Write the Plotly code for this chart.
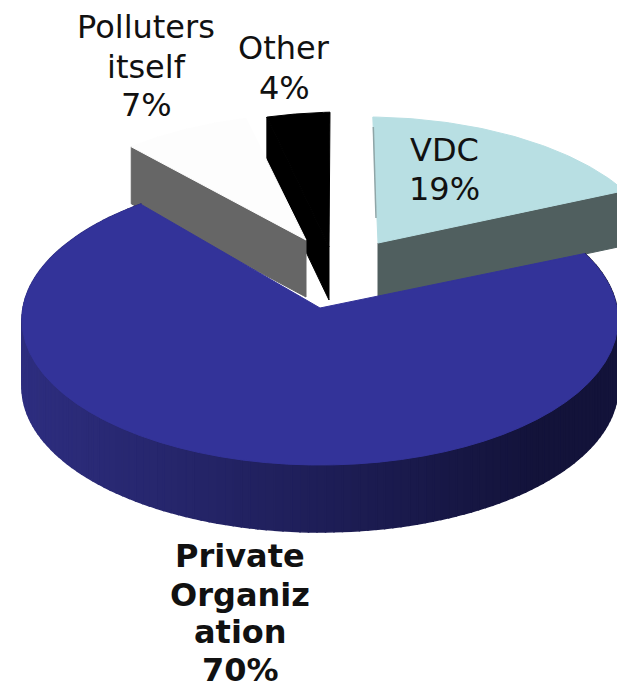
import numpy as np
import plotly.graph_objects as go

# Data
LABELS = ["VDC", "Private Organization", "Polluters itself", "Other"]
VALUES = [19, 70, 7, 4]
LABEL_LINES = [["VDC", "19%"], ["Private", "Organiz", "ation", "70%"], ["Polluters", "itself", "7%"], ["Other", "4%"]]

# Appearance and projected pie geometry (a 3-D exploded pie, seen in perspective)
FACE = ["#b8dfe3", "#333399", "#fdfdfd", "#000000"]
WALL = ["#505f5f", "#1f1f60", "#666666", "#000000"]
RX, RY = 298, 145
RIM_CX = [365, 320, 320, 345]
RIM_CY = [262, 320, 259, 257]
APEX_X = [378, 320, 306, 329]
APEX_Y = [243, 308, 240, 247]
DEPTH = [55, 67, 57, 53]
START = [1.5, 62.7, 320.7, 344.8]
SPAN_SCALE = [0.863, 1.033, 0.99, 0.855]
LABEL_X = [444, 240, 146, 284]
LABEL_Y = [[150, 189], [556, 595, 632, 670], [27, 67, 105], [48, 88]]
LABEL_BOLD = [False, True, False, False]
LABEL_SIZE = [32, 32, 32, 32]


def rim(i, n=60):
    th = np.radians(np.linspace(START[i], START[i] + VALUES[i] * 3.6 * SPAN_SCALE[i], n))
    return RIM_CX[i] + RX * np.sin(th), RIM_CY[i] - RY * np.cos(th)


def poly(fig, x, y, color, lw=0.5):
    fig.add_trace(go.Scatter(x=list(x) + [x[0]], y=list(y) + [y[0]], mode="lines", fill="toself",
                             fillcolor=color, line=dict(color=color, width=lw), hoverinfo="skip",
                             showlegend=False))


def cut_wall(fig, i, end):
    rx, ry = rim(i)
    ex, ey = rx[end], ry[end]
    d = DEPTH[i]
    poly(fig, [APEX_X[i], ex, ex, APEX_X[i]], [APEX_Y[i], ey, ey + d, APEX_Y[i] + d], WALL[i], 1)


def face(fig, i):
    rx, ry = rim(i)
    poly(fig, [APEX_X[i], *rx], [APEX_Y[i], *ry], FACE[i], 1)


fig = go.Figure()

# VDC
cut_wall(fig, 0, -1)
face(fig, 0)
rx0, ry0 = rim(0)
fig.add_trace(go.Scatter(x=[rx0[0] + 0.5, APEX_X[0] - 2], y=[ry0[0] + 10, APEX_Y[0] - 25], mode="lines",
                         line=dict(color="#8fa5a7", width=1.5), hoverinfo="skip", showlegend=False))
# Other
cut_wall(fig, 3, 0)
face(fig, 3)
# Polluters
cut_wall(fig, 2, 0)
face(fig, 2)

# Private Organization: rim wall with a left-to-right shade, then the face
rx, ry = rim(1, 160)
left, right = np.array([46, 46, 128]), np.array([19, 19, 58])
d = DEPTH[1]
for k in range(len(rx) - 1):
    xm = (rx[k] + rx[k + 1]) / 2
    t = (xm - rx.min()) / (rx.max() - rx.min())
    c = left + (right - left) * min(1, t * 1.15)
    col = "rgb(%d,%d,%d)" % tuple(c)
    poly(fig, [rx[k], rx[k + 1], rx[k + 1], rx[k]], [ry[k], ry[k + 1], ry[k + 1] + d, ry[k] + d], col, 1.5)
face(fig, 1)

annotations = []
for i, lines in enumerate(LABEL_LINES):
    for line, y in zip(lines, LABEL_Y[i]):
        annotations.append(dict(x=LABEL_X[i], y=y, xref="x", yref="y", text=("<b>%s</b>" % line) if LABEL_BOLD[i] else line,
                                showarrow=False, xanchor="center", yanchor="middle",
                                font=dict(family="DejaVu Sans", size=LABEL_SIZE[i], color="#111111")))

fig.update_layout(
    width=617, height=691, margin=dict(l=0, r=0, t=0, b=0),
    paper_bgcolor="white", plot_bgcolor="white", showlegend=False,
    xaxis=dict(range=[0, 617], visible=False, fixedrange=True),
    yaxis=dict(range=[691, 0], visible=False, fixedrange=True),
    annotations=annotations,
)
fig.write_html("out.html", post_script="document.body.style.margin='0';", config={"displayModeBar": False})
